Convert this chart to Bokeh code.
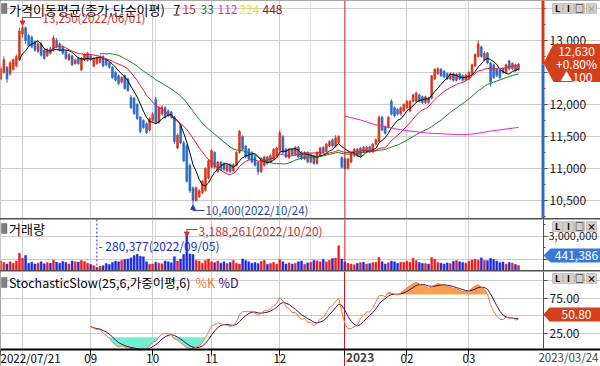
import numpy as np
from bokeh.plotting import figure
from bokeh.layouts import column
from bokeh.models import (Range1d, FixedTicker, NumeralTickFormatter, Label, Span,
                          BoxAnnotation, PolyAnnotation, Grid, ColumnDataSource)
from bokeh.embed import file_html
from bokeh.resources import INLINE

# ---------------- data ----------------
opens = [12400, 12500, 12580, 12480, 12550, 12600, 12700, 13100, 13200, 13080,
         13050, 12980, 12830, 12950, 12850, 12760, 12870, 12850, 13000, 12950,
         12900, 12830, 12700, 12760, 12640, 12720, 12540, 12700, 12690, 12760,
         12600, 12640, 12660, 12750, 12700, 12650, 12580, 12500, 12450, 12350,
         12450, 12400, 12110, 12100, 12000, 11800, 11750, 11700, 11600, 11750,
         12080, 11720, 11850, 11950, 11900, 11880, 11800, 11320, 11670, 11400,
         11350, 11050, 10700, 10500, 10560, 10620, 10660, 10850, 11020, 11250,
         10950, 11100, 11080, 10960, 11060, 10960, 11050, 11250, 11500, 11350,
         11300, 11250, 11180, 11100, 10950, 11050, 11180, 11100, 11150, 11200,
         11280, 11500, 11300, 11170, 11300, 11220, 11330, 11250, 11150, 11250,
         11100, 11200, 11080, 11200, 11330, 11260, 11350, 11450, 11350, 11400,
         11170, 11150, 11000, 11100, 11200, 11300, 11200, 11330, 11260, 11340,
         11260, 11380, 11420, 11800, 11650, 11650, 12050, 11950, 11920, 11850,
         11900, 11950, 11900, 12050, 12050, 12150, 12120, 12030, 12100, 12100,
         12400, 12480, 12550, 12520, 12480, 12400, 12480, 12380, 12480, 12450,
         12380, 12400, 12480, 12600, 12750, 12900, 12700, 12800, 12650, 12620,
         12550, 12530, 12560, 12500, 12680, 12560, 12620, 12550]
closes = [12560, 12700, 12400, 12650, 12700, 12750, 13150, 13200, 13000, 12920,
          12900, 12850, 12950, 12770, 12720, 12850, 12800, 13040, 12900, 12850,
          12800, 12720, 12780, 12620, 12700, 12640, 12720, 12780, 12800, 12700,
          12720, 12730, 12750, 12600, 12620, 12580, 12420, 12380, 12330, 12420,
          12250, 12220, 11950, 11860, 11780, 11580, 11640, 11560, 11780, 11850,
          11720, 11950, 11960, 11800, 11820, 11800, 11420, 11520, 11400, 11120,
          10800, 10650, 10500, 10700, 10650, 10800, 11000, 11120, 11280, 11020,
          11100, 10980, 10980, 11050, 10950, 11060, 11250, 11580, 11300, 11180,
          11150, 11100, 11050, 10950, 11150, 11180, 11080, 11200, 11300, 11320,
          11560, 11250, 11180, 11300, 11220, 11330, 11180, 11150, 11250, 11100,
          11220, 11080, 11250, 11320, 11250, 11380, 11420, 11350, 11480, 11500,
          11020, 11000, 11150, 11250, 11300, 11200, 11320, 11260, 11330, 11260,
          11380, 11450, 11800, 11600, 11550, 11800, 11850, 11820, 11850, 11950,
          12000, 12050, 12050, 12150, 12180, 12050, 12030, 12120, 12030, 12450,
          12550, 12560, 12450, 12430, 12400, 12480, 12380, 12470, 12400, 12380,
          12460, 12500, 12620, 12780, 12950, 12750, 12800, 12650, 12350, 12420,
          12450, 12420, 12500, 12620, 12560, 12640, 12530, 12630]
highs = [12600, 12750, 12600, 12680, 12720, 12780, 13200, 13250, 13220, 13100,
         13080, 13000, 12980, 12980, 12870, 12880, 12900, 13080, 13040, 12970,
         12920, 12850, 12800, 12780, 12720, 12740, 12740, 12800, 12820, 12780,
         12740, 12750, 12770, 12770, 12720, 12670, 12600, 12520, 12470, 12440,
         12470, 12420, 12150, 12120, 12020, 11820, 11770, 11720, 11800, 11880,
         12120, 11980, 11990, 11970, 11920, 11900, 11820, 11550, 11690, 11430,
         11380, 11080, 10720, 10720, 10680, 10820, 11020, 11150, 11300, 11270,
         11120, 11120, 11100, 11070, 11080, 11080, 11270, 11600, 11520, 11370,
         11320, 11270, 11200, 11120, 11170, 11200, 11200, 11220, 11320, 11340,
         11600, 11520, 11320, 11320, 11320, 11350, 11350, 11270, 11270, 11270,
         11240, 11220, 11270, 11340, 11350, 11400, 11440, 11470, 11520, 11520,
         11190, 11170, 11170, 11270, 11320, 11320, 11340, 11350, 11350, 11360,
         11400, 11470, 11830, 11820, 11670, 11820, 12080, 11970, 11940, 11970,
         12020, 12070, 12070, 12170, 12200, 12170, 12140, 12140, 12120, 12460,
         12570, 12580, 12570, 12540, 12500, 12500, 12500, 12490, 12500, 12470,
         12480, 12520, 12640, 12800, 13000, 12920, 12830, 12820, 12670, 12640,
         12570, 12550, 12580, 12640, 12700, 12660, 12640, 12650]
lows = [12380, 12480, 12340, 12450, 12530, 12580, 12680, 13050, 12950, 12900,
        12880, 12820, 12800, 12750, 12700, 12740, 12780, 12830, 12880, 12830,
        12780, 12700, 12680, 12600, 12620, 12620, 12520, 12680, 12670, 12680,
        12580, 12620, 12640, 12580, 12600, 12560, 12400, 12360, 12300, 12330,
        12230, 12200, 11930, 11840, 11760, 11550, 11620, 11540, 11580, 11730,
        11700, 11700, 11830, 11780, 11800, 11780, 11380, 11300, 11380, 11100,
        10780, 10620, 10400, 10480, 10540, 10600, 10640, 10830, 11000, 11000,
        10930, 10960, 10960, 10940, 10930, 10940, 11030, 11230, 11280, 11160,
        11130, 11080, 11030, 10900, 10930, 11030, 11060, 11080, 11130, 11180,
        11260, 11230, 11160, 11150, 11200, 11200, 11160, 11130, 11130, 11080,
        11080, 11060, 11060, 11180, 11230, 11240, 11330, 11330, 11330, 11380,
        11000, 10980, 10980, 11080, 11180, 11180, 11180, 11240, 11240, 11240,
        11240, 11360, 11400, 11580, 11530, 11630, 11830, 11800, 11830, 11830,
        11880, 11930, 11880, 12030, 12030, 12030, 12010, 12010, 12010, 12080,
        12380, 12460, 12430, 12410, 12380, 12380, 12360, 12360, 12380, 12360,
        12360, 12380, 12460, 12580, 12730, 12730, 12680, 12630, 12280, 12400,
        12430, 12400, 12480, 12480, 12530, 12540, 12510, 12530]
volumes = [820000, 700000, 560000, 760000, 640000, 820000, 1500000, 1060000, 1300000, 640000,
           720000, 560000, 640000, 760000, 580000, 700000, 620000, 900000, 720000, 640000,
           780000, 700000, 560000, 820000, 760000, 740000, 880000, 780000, 640000, 520000,
           420000, 280377, 360000, 420000, 600000, 520000, 700000, 820000, 760000, 880000,
           960000, 1000000, 1100000, 1300000, 1420000, 1240000, 1200000, 760000, 540000, 560000,
           720000, 640000, 580000, 820000, 760000, 680000, 1200000, 820000, 1000000, 1400000,
           3188261, 1440000, 1400000, 900000, 820000, 640000, 880000, 1000000, 760000, 680000,
           820000, 640000, 760000, 600000, 700000, 860000, 640000, 560000, 1000000, 880000,
           760000, 620000, 700000, 600000, 800000, 880000, 540000, 620000, 700000, 560000,
           960000, 760000, 560000, 660000, 560000, 620000, 760000, 820000, 540000, 660000,
           720000, 880000, 840000, 760000, 980000, 760000, 880000, 1040000, 1080000, 2150000,
           1000000, 740000, 620000, 560000, 500000, 620000, 680000, 720000, 560000, 600000,
           680000, 720000, 1120000, 760000, 560000, 680000, 820000, 760000, 620000, 720000,
           720000, 820000, 720000, 1060000, 860000, 700000, 620000, 600000, 560000, 1120000,
           980000, 700000, 640000, 560000, 660000, 600000, 800000, 860000, 760000, 700000,
           640000, 820000, 920000, 980000, 900000, 1100000, 880000, 860000, 1060000, 960000,
           820000, 680000, 740000, 560000, 700000, 640000, 520000, 441386]

price_ticks = [10500, 11000, 11500, 12000, 12500, 13000]
price_minor_ticks = [10250, 10750, 11250, 11750, 12250, 12750, 13250, 13500]
price_grid = [10500, 11000, 11500, 12000, 12500, 13000, 13500]
volume_ticks = [1000000, 3000000]
volume_minor_ticks = [2000000, 4000000]
stoch_ticks = [25, 50, 75, 100]
month_grid_idx = [7, 29, 49, 68, 90, 131, 151]
year_start_idx = 111
xaxis_tick_idx = [0, 29, 49, 68, 90, 111, 131, 151]
xaxis_tick_labels = ["2022/07/21", "09", "10", "11", "12", "", "02", "03"]
year_label = "2023"
last_date_label = "2023/03/24"
ma_periods = [7, 15, 33, 112, 224, 448]
ma_colors = ["#000000", "#E5173B", "#12801E", "#E21FE0", "#E6E600", "#8C1A10"]
high_date, low_date = "2022/06/01", "2022/10/24"
vmax_date, vmin_date = "2022/10/20", "2022/09/05"
stoch_period, stoch_slow, stoch_signal = 25, 6, 6
stoch_k_shown = 50.80

# ---------------- helpers: original pixel position -> data units ----------------
FONT = "Noto Sans CJK KR"


def ix(x):
    return (x - 0.3) / 3.1


def py(y):
    return 13000 - (y - 40) * 15.625


def vy(y):
    return (270 - y) / 11.5 * 1e6


def sy(y):
    return (351 - y) / 0.712


n = len(closes)
idx = np.arange(n)
o = np.array(opens, float)
h = np.array(highs, float)
l = np.array(lows, float)
c = np.array(closes, float)
v = np.array(volumes, float)
up = c >= o
candle_colors = ["#D7381C" if u else "#2C6BC8" for u in up]
vol_colors = ["#EE1C1C" if u else "#1C28E4" for u in up]


def sma(arr, p):
    out = np.full(len(arr), np.nan)
    for i in range(p - 1, len(arr)):
        out[i] = arr[i - p + 1:i + 1].mean()
    return out


def wma(arr, p, partial=False):
    out = np.full(len(arr), np.nan)
    for i in range(len(arr)):
        w = arr[max(0, i - p + 1):i + 1]
        w = w[~np.isnan(w)]
        if len(w) == 0 or (not partial and len(w) < p):
            continue
        wt = np.arange(1, len(w) + 1)
        out[i] = (w * wt).sum() / wt.sum()
    return out


fastk = np.full(n, np.nan)
for i in range(stoch_period - 1, n):
    hh = h[i - stoch_period + 1:i + 1].max()
    ll = l[i - stoch_period + 1:i + 1].min()
    fastk[i] = (c[i] - ll) / (hh - ll) * 100
slowk = wma(fastk, stoch_slow)
slowd = wma(slowk, stoch_signal, partial=True)

xr = Range1d(ix(0), ix(600))
GRID = "#CCCCCC"


def make_fig(height, yr, xaxis=False, vbounds=None):
    p = figure(width=600, height=height, x_range=xr, y_range=yr,
               toolbar_location=None, output_backend="svg",
               x_axis_location="below" if xaxis else None, y_axis_location="right",
               min_border_left=0, min_border_right=0, min_border_top=0,
               min_border_bottom=0)
    p.outline_line_color = None
    p.background_fill_color = "white"
    p.border_fill_color = "white"
    p.ygrid.grid_line_color = GRID
    p.ygrid.bounds = (ix(0), ix(543))
    if xaxis:
        p.xgrid.ticker = FixedTicker(ticks=month_grid_idx)
        p.xgrid.grid_line_color = GRID
        p.xgrid.bounds = vbounds
        p.add_layout(Grid(dimension=0, ticker=FixedTicker(ticks=[year_start_idx]),
                          bounds=vbounds, grid_line_color="#D01818"))
    else:
        p.add_layout(Grid(dimension=0, ticker=FixedTicker(ticks=month_grid_idx),
                          grid_line_color=GRID))
        p.add_layout(Span(location=year_start_idx, dimension="height",
                          line_color="#D01818", line_width=1))
    ax = p.yaxis[0]
    ax.fixed_location = ix(543)
    ax.axis_line_color = "#505050"
    ax.major_tick_line_color = "#505050"
    ax.minor_tick_line_color = "#505050"
    ax.major_tick_out = 4
    ax.major_tick_in = 0
    ax.minor_tick_out = 2
    ax.minor_tick_in = 0
    ax.major_label_text_font = FONT
    ax.major_label_text_font_size = "12px"
    ax.major_label_text_color = "#202020"
    ax.major_label_standoff = 2
    return p


def label(p, x, y, text, color="#000000", size="12px", align="left", **kw):
    p.add_layout(Label(x=x, y=y, text=text, text_color=color, text_font=FONT,
                       text_font_size=size, text_align=align,
                       text_baseline=kw.pop("baseline", "middle"), **kw))


def buttons(p, yconv, ycen, last_grey=False):
    for k, (x0, ch) in enumerate(zip([552, 563, 574, 586], ["L", "I", "□", "×"])):
        p.add_layout(BoxAnnotation(left=ix(x0), right=ix(x0 + 10), top=yconv(ycen - 5),
                                   bottom=yconv(ycen + 5), fill_color="#D4D0C8", fill_alpha=1,
                                   line_color="#707070", line_width=1))
        col = "#A0A0A0" if (last_grey and k == 3) else "#000000"
        label(p, ix(x0 + 5), yconv(ycen), ch, color=col, size="9px",
              align="center", text_font_style="bold")


def tag(p, yconv, ycen, half_h, x_box, color, texts):
    top, bot = ycen - half_h, ycen + half_h
    p.add_layout(PolyAnnotation(
        xs=[ix(543), ix(x_box), ix(601), ix(601), ix(x_box)],
        ys=[yconv(ycen), yconv(top), yconv(top), yconv(bot), yconv(bot)],
        fill_color=color, fill_alpha=1, line_color=None))
    for (txt, ypx) in texts:
        label(p, ix(576), yconv(ypx), txt, color="white", size="12px", align="center")


def title_icon(p, yconv, ycen):
    p.add_layout(BoxAnnotation(left=ix(1), right=ix(6.5), top=yconv(ycen - 5),
                               bottom=yconv(ycen + 5), fill_color="#808080", fill_alpha=1,
                               line_color="#303030"))


# ---------------- price panel ----------------
pp = make_fig(218, Range1d(py(218), py(0)))
pp.yaxis.ticker = FixedTicker(ticks=price_ticks, minor_ticks=price_minor_ticks)
pp.yaxis.formatter = NumeralTickFormatter(format="0,0")
pp.yaxis.major_label_overrides = {12500: ""}
pp.yaxis.axis_line_color = None
pp.ygrid.ticker = FixedTicker(ticks=price_grid)

src = ColumnDataSource(dict(x=idx, h=h, l=l, top=np.maximum(o, c),
                            bot=np.minimum(o, c), col=candle_colors))
pp.segment(x0="x", y0="h", x1="x", y1="l", color="col", line_width=1, source=src)
pp.vbar(x="x", width=0.62, top="top", bottom="bot", fill_color="col",
        line_color="col", line_width=0.6, source=src)
for per, col in zip(ma_periods, ma_colors):
    m = sma(c, per)
    if np.all(np.isnan(m)):
        continue
    pp.line(idx, m, line_color=col, line_width=1)

# right edge bar: red above / blue below the last price
pp.add_layout(BoxAnnotation(left=ix(541), right=ix(544), bottom=c[-1],
                            fill_color="#D7381C", fill_alpha=1, line_color=None))
pp.add_layout(BoxAnnotation(left=ix(541), right=ix(544), top=c[-1],
                            fill_color="#2C6BC8", fill_alpha=1, line_color=None))

title_icon(pp, py, 8)
label(pp, ix(8.5), py(8.5), "가격이동평균(종가,단순이평)", size="13px")
for txt, xpx, col in zip([str(p_) for p_ in ma_periods], [173, 182, 200, 217, 239, 262],
                         ma_colors):
    label(pp, ix(xpx), py(8.5), txt, color=col, size="12px")
pp.segment(x0=[ix(173)], y0=[py(14.5)], x1=[ix(179)], y1=[py(14.5)], line_color="#000000",
           line_width=1)

imax = int(np.argmax(h))
imin = int(np.argmin(l))
red_txt, blue_txt = "#CC3030", "#2848A8"
pp.segment(x0=[imax, imax], y0=[py(17), py(17)], x1=[ix(41), imax], y1=[py(17), py(21)],
           line_color=red_txt, line_width=1)
pp.scatter([imax], [py(22)], marker="inverted_triangle", size=5, color=red_txt)
label(pp, ix(42), py(17), f"{int(h[imax]):,}({high_date})", color=red_txt, size="11.5px")
pp.segment(x0=[imin, imin], y0=[py(210), py(210)], x1=[ix(204), imin], y1=[py(210), py(208)],
           line_color=blue_txt, line_width=1)
pp.scatter([imin], [py(207.5)], marker="triangle", size=5, color=blue_txt)
label(pp, ix(205), py(209.5), f"{int(l[imin]):,}({low_date})", color=blue_txt, size="11.5px")

chg = int(c[-1] - c[-2])
tag(pp, py, 62.5, 19, 553, "#D4401C",
    [(f"{int(c[-1]):,}", 50.5), (f"{chg / c[-2] * 100:+.2f}%", 63), (f"▲{abs(chg)}", 75.5)])
buttons(pp, py, 8, last_grey=True)

# ---------------- volume panel ----------------
pv = make_fig(51, Range1d(0, vy(219)))
pv.yaxis.ticker = FixedTicker(ticks=volume_ticks, minor_ticks=volume_minor_ticks)
pv.yaxis.formatter = NumeralTickFormatter(format="0,0")
pv.yaxis.major_label_overrides = {1000000: ""}
pv.yaxis.major_label_text_font_size = "11px"
pv.yaxis.major_label_standoff = 1
pv.ygrid.ticker = FixedTicker(ticks=volume_ticks)
pv.vbar(x=idx, width=0.62, top=v, bottom=0, fill_color=vol_colors, line_color=vol_colors,
        line_width=0.5)
title_icon(pv, vy, 228)
label(pv, ix(8.5), vy(228), "거래량", size="13px")
ivmax = int(np.argmax(v))
ivmin = int(np.argmin(v))
pv.segment(x0=[ivmax, ivmax], y0=[vy(229), vy(229)], x1=[ix(197), ivmax], y1=[vy(229), vy(232)],
           line_color=red_txt, line_width=1)
pv.scatter([ivmax], [vy(233)], marker="inverted_triangle", size=5, color=red_txt)
label(pv, ix(198), vy(229.5), f"{int(v[ivmax]):,}({vmax_date})", color=red_txt, size="12px")
pv.add_layout(Span(location=ivmin, dimension="height", line_color="#2030C0",
                   line_dash="2 2", line_width=1))
label(pv, ix(98), vy(245), f"- {int(v[ivmin]):,}({vmin_date})", color="#2030C0", size="12px")
tag(pv, vy, 255, 7, 550, "#3A78D6", [(f"{int(v[-1]):,}", 255)])
buttons(pv, vy, 226)

# ---------------- stochastic panel ----------------
vb = (sy(348), sy(271))
ps = make_fig(95, Range1d(sy(366), sy(271)), xaxis=True, vbounds=vb)
ps.yaxis.ticker = FixedTicker(ticks=stoch_ticks)
ps.yaxis.formatter = NumeralTickFormatter(format="0.00")
ps.yaxis.major_label_overrides = {50: "", 100: ""}
ps.yaxis.minor_tick_line_color = None
ps.yaxis.bounds = vb
ps.ygrid.ticker = FixedTicker(ticks=stoch_ticks)

k_ok = ~np.isnan(slowk)
xs_k = idx[k_ok]
kk = slowk[k_ok]
ps.varea(x=xs_k, y1=np.full(len(kk), 80.0), y2=np.maximum(kk, 80.0),
         fill_color="#F8A050", fill_alpha=1)
ps.varea(x=xs_k, y1=np.minimum(kk, 20.0), y2=np.full(len(kk), 20.0),
         fill_color="#70F0D0", fill_alpha=1)
d_ok = ~np.isnan(slowd)
ps.line(idx[d_ok], slowd[d_ok], line_color="#3C0A6E", line_width=1)
ps.line(xs_k, kk, line_color="#F07A30", line_width=1)

title_icon(ps, sy, 282)
label(ps, ix(8.5), sy(282), f"StochasticSlow({stoch_period},{stoch_slow},가중이평,{stoch_signal})",
      size="12.5px")
label(ps, ix(195), sy(282), "%K", color="#F07A30", size="12.5px")
label(ps, ix(218), sy(282), "%D", color="#3C0A6E", size="12.5px")
tag(ps, sy, 314, 7, 549, "#D4401C", [(f"{stoch_k_shown:.2f}", 314)])
buttons(ps, sy, 278)

xa = ps.xaxis[0]
xa.fixed_location = sy(348.5)
xa.ticker = FixedTicker(ticks=xaxis_tick_idx)
xa.major_label_overrides = {t: s for t, s in zip(xaxis_tick_idx, xaxis_tick_labels)}
xa.major_label_text_align = "left"
xa.axis_line_color = "#000000"
xa.axis_line_width = 2
xa.major_tick_line_color = "#000000"
xa.major_tick_out = 6
xa.major_tick_in = 0
xa.minor_tick_line_color = None
xa.major_label_standoff = -5
xa.major_label_text_font = FONT
xa.major_label_text_font_size = "11.5px"
xa.major_label_text_color = "#000000"
ps.add_layout(Label(x=year_start_idx, x_offset=1, y=sy(348.5), y_offset=-8, text=year_label,
                    text_font=FONT, text_font_size="12px", text_font_style="bold",
                    text_align="left", text_baseline="middle"))
ps.add_layout(Label(x=ix(598), y=sy(348.5), y_offset=-8, text=last_date_label,
                    text_font=FONT, text_font_size="11.5px",
                    text_align="right", text_baseline="middle"))

layout = column(pp, pv, ps, spacing=1, styles={"background-color": "#505050"})
open("out.html", "w").write(file_html(layout, INLINE))
